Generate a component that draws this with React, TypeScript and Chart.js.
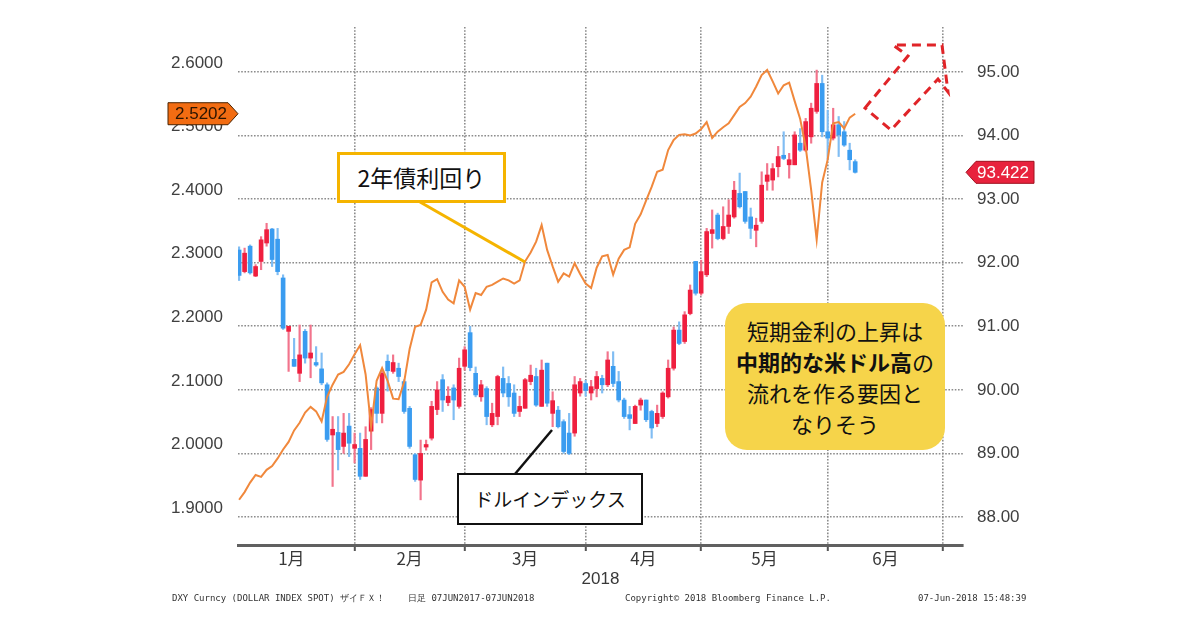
import React, { useEffect, useRef } from 'react';
import { Chart, registerables } from 'chart.js';

Chart.register(...registerables);

// ---- Data ----
const monthLabels = ['1月', '2月', '3月', '4月', '5月', '6月'];
const monthLabelPos = [9.5, 31, 52, 73.5, 95.5, 117.5];
const monthStarts = [21, 41, 63, 84, 107, 128];
const leftTicks = [1.9, 2.0, 2.1, 2.2, 2.3, 2.4, 2.5, 2.6];
const rightTicks = [88, 89, 90, 91, 92, 93, 94, 95];
const lastYield = 2.5202;
const lastDxy = 93.422;

const openV = [
  92.20, 91.86, 92.26, 91.79, 92.02, 92.31, 92.53, 92.37, 91.76, 90.92,
  90.48, 90.26, 90.92, 90.50, 90.43, 90.33, 90.08, 89.29, 89.33, 89.11,
  89.43, 89.08, 89.08, 88.64, 89.35, 90.03, 89.63, 90.45, 90.29, 90.34,
  90.13, 89.71, 88.98, 88.58, 89.10, 89.24, 89.69, 90.16, 89.80, 90.03,
  89.74, 90.37, 90.90, 90.26, 89.89, 90.02, 89.45, 89.58, 90.18, 90.10,
  89.95, 89.66, 89.71, 90.13, 90.21, 89.74, 90.42, 89.63, 89.68, 89.50,
  89.32, 89.32, 89.95, 90.10, 89.95, 90.02, 90.18, 90.08, 90.37, 90.13,
  89.84, 89.61, 89.47, 89.76, 89.84, 89.66, 89.47, 89.58, 89.89, 90.34,
  90.94, 90.76, 91.20, 92.02, 91.52, 91.81, 92.46, 92.75, 92.38, 92.57,
  92.72, 93.09, 93.12, 92.72, 92.51, 92.65, 93.28, 93.30, 93.51, 93.69,
  93.54, 93.54, 93.88, 93.77, 93.98, 94.38, 94.82, 94.06, 93.96, 94.17,
  94.06, 93.77, 93.59,
];
const highV = [
  92.25, 92.23, 92.28, 91.97, 92.41, 92.62, 92.54, 92.54, 91.81, 91.00,
  90.81, 91.02, 90.95, 91.02, 90.68, 90.58, 90.11, 89.58, 89.58, 89.63,
  89.63, 89.32, 89.32, 89.42, 89.72, 90.05, 90.29, 90.55, 90.55, 90.42,
  90.16, 89.74, 89.00, 89.21, 89.21, 89.82, 90.13, 90.24, 90.05, 90.08,
  90.50, 90.68, 91.00, 90.36, 90.15, 90.05, 89.79, 90.23, 90.36, 90.21,
  90.08, 89.90, 90.18, 90.39, 90.34, 90.47, 90.42, 89.97, 89.74, 89.53,
  89.63, 90.21, 90.18, 90.15, 90.15, 90.29, 90.23, 90.60, 90.60, 90.29,
  89.87, 89.74, 89.76, 89.87, 89.84, 89.68, 89.76, 89.97, 90.47, 90.99,
  91.07, 91.23, 91.65, 92.02, 92.04, 92.54, 92.83, 92.78, 92.88, 92.99,
  93.28, 93.41, 93.12, 92.86, 92.70, 93.43, 93.56, 93.56, 93.83, 94.06,
  93.72, 94.06, 94.11, 94.27, 94.51, 95.03, 94.95, 94.40, 94.43, 94.30,
  94.22, 93.88, 93.62,
];
const lowV = [
  91.72, 91.84, 91.82, 91.78, 91.89, 92.26, 91.94, 91.81, 90.95, 90.29,
  90.37, 90.13, 90.42, 90.19, 90.37, 90.08, 89.19, 88.48, 88.74, 89.00,
  88.95, 88.85, 88.59, 88.64, 89.06, 89.48, 89.48, 89.98, 90.26, 90.13,
  89.63, 89.08, 88.56, 88.27, 89.05, 89.21, 89.61, 89.66, 89.75, 89.53,
  89.71, 90.31, 90.30, 89.89, 89.82, 89.45, 89.42, 89.45, 89.89, 89.74,
  89.58, 89.58, 89.71, 90.08, 89.74, 89.74, 89.74, 89.42, 89.40, 89.00,
  88.98, 89.27, 89.90, 89.90, 89.84, 89.89, 89.95, 90.05, 90.05, 89.81,
  89.55, 89.37, 89.47, 89.68, 89.50, 89.24, 89.42, 89.55, 89.87, 90.31,
  90.71, 90.73, 91.18, 91.49, 91.49, 91.78, 92.23, 92.36, 92.36, 92.46,
  92.70, 92.86, 92.62, 92.38, 92.25, 92.62, 93.14, 93.14, 93.35, 93.62,
  93.33, 93.54, 93.75, 93.75, 93.88, 94.35, 93.98, 93.62, 93.93, 93.67,
  93.83, 93.46, 93.41,
];
const closeV = [
  91.80, 92.15, 91.84, 91.94, 92.36, 92.52, 92.05, 91.86, 90.97, 91.00,
  90.37, 90.55, 90.50, 90.58, 90.39, 90.11, 89.22, 89.38, 89.06, 89.32,
  89.16, 89.14, 88.64, 89.22, 89.69, 89.63, 90.26, 90.30, 90.43, 90.21,
  89.66, 89.11, 88.59, 89.00, 89.14, 89.74, 90.00, 89.84, 89.90, 89.84,
  90.34, 90.63, 90.35, 89.92, 90.08, 89.58, 89.63, 90.21, 89.95, 89.89,
  89.63, 89.74, 90.16, 90.23, 89.76, 90.31, 89.79, 89.83, 89.42, 89.03,
  89.00, 90.08, 90.13, 89.99, 90.05, 90.21, 90.08, 90.47, 90.10, 89.84,
  89.58, 89.55, 89.74, 89.84, 89.53, 89.40, 89.63, 89.95, 90.34, 90.94,
  90.73, 91.18, 91.57, 91.52, 91.86, 92.49, 92.52, 92.38, 92.57, 92.75,
  93.14, 92.88, 92.65, 92.54, 92.59, 93.22, 93.38, 93.48, 93.67, 93.64,
  93.62, 94.01, 93.77, 94.22, 94.43, 94.82, 94.06, 93.96, 94.17, 94.01,
  93.85, 93.62, 93.422,
];
const yield2y = [
  1.913, 1.925, 1.940, 1.952, 1.949, 1.960, 1.966, 1.978, 1.992, 2.004,
  2.022, 2.034, 2.050, 2.059, 2.052, 2.036, 2.075, 2.094, 2.110, 2.114,
  2.126, 2.142, 2.156, 2.110, 2.028, 2.100, 2.120, 2.100, 2.072, 2.071,
  2.098, 2.150, 2.185, 2.188, 2.212, 2.255, 2.260, 2.240, 2.228, 2.222,
  2.258, 2.248, 2.212, 2.238, 2.235, 2.248, 2.251, 2.256, 2.261, 2.258,
  2.253, 2.258, 2.288, 2.302, 2.319, 2.345, 2.306, 2.280, 2.256, 2.269,
  2.264, 2.285, 2.268, 2.253, 2.246, 2.278, 2.296, 2.298, 2.267, 2.292,
  2.306, 2.310, 2.347, 2.362, 2.384, 2.405, 2.429, 2.432, 2.463, 2.479,
  2.487, 2.488, 2.486, 2.489, 2.496, 2.507, 2.482, 2.492, 2.499, 2.505,
  2.518, 2.531, 2.537, 2.547, 2.563, 2.581, 2.589, 2.571, 2.552, 2.565,
  2.569, 2.540, 2.512, 2.468, 2.400, 2.322, 2.412, 2.448, 2.505, 2.507,
  2.497, 2.514, 2.5202,
];

const UP = '#ef1f3f';
const DOWN = '#3a9cf0';
const UP_WICK = '#f2748c';
const DOWN_WICK = '#80bdf3';
const ORANGE = '#f0883c';
const GRID = '#8c8c8c';
const DOTS = [1.6, 1.6];
const TICK_FONT = '"Liberation Sans", Arial, sans-serif';
const JP_FONT = '"Noto Sans CJK JP", "Noto Sans", sans-serif';

const tagPlugin = {
  id: 'valueTags',
  afterDraw(chart: any) {
    const { ctx, chartArea } = chart;
    const yl = chart.scales.yL.getPixelForValue(lastYield);
    const yr = chart.scales.yR.getPixelForValue(lastDxy);
    const L = chartArea.left;
    const R = chartArea.right;
    ctx.save();
    // left (orange) tag
    ctx.beginPath();
    ctx.moveTo(L - 70, yl - 11);
    ctx.lineTo(L - 10, yl - 11);
    ctx.lineTo(L, yl);
    ctx.lineTo(L - 10, yl + 11);
    ctx.lineTo(L - 70, yl + 11);
    ctx.closePath();
    ctx.fillStyle = '#f26c12';
    ctx.fill();
    ctx.lineWidth = 1;
    ctx.strokeStyle = '#4a2200';
    ctx.stroke();
    ctx.fillStyle = '#2b1400';
    ctx.font = `17px ${TICK_FONT}`;
    ctx.textAlign = 'center';
    ctx.textBaseline = 'middle';
    ctx.fillText(lastYield.toFixed(4), L - 37, yl + 1);
    // right (red) tag
    ctx.beginPath();
    ctx.moveTo(R + 3, yr);
    ctx.lineTo(R + 13, yr - 11);
    ctx.lineTo(R + 71, yr - 11);
    ctx.lineTo(R + 71, yr + 11);
    ctx.lineTo(R + 13, yr + 11);
    ctx.closePath();
    ctx.fillStyle = '#e8223d';
    ctx.fill();
    ctx.strokeStyle = '#a0101f';
    ctx.stroke();
    ctx.fillStyle = '#ffffff';
    ctx.fillText(lastDxy.toFixed(3), R + 40, yr + 1);
    ctx.restore();
  },
};

// grid lines take their dash from border.dash (per tick); keep the axis line itself solid
const tickDash = (c: any) => (c.type === 'tick' ? DOTS : []);

function ChartCanvas() {
  const ref = useRef<HTMLCanvasElement | null>(null);
  useEffect(() => {
    document.body.style.margin = '0';
    if (!ref.current) return;
    const isUp = closeV.map((c, i) => c >= openV[i]);
    const chart = new Chart(ref.current, {
      type: 'bar',
      data: {
        datasets: [
          {
            type: 'line',
            label: '2年債利回り',
            data: yield2y.map((v, i) => ({ x: i, y: v })),
            xAxisID: 'x',
            yAxisID: 'yL',
            borderColor: ORANGE,
            borderWidth: 2,
            pointRadius: 0,
            tension: 0,
            order: 0,
          } as any,
          {
            type: 'bar',
            label: 'body',
            data: openV.map((o, i) => ({ x: i, y: [o, closeV[i]] })),
            xAxisID: 'x',
            yAxisID: 'yR',
            backgroundColor: isUp.map((u) => (u ? UP : DOWN)),
            barThickness: 4,
            grouped: false,
            minBarLength: 2,
            order: 1,
          } as any,
          {
            type: 'bar',
            label: 'wick',
            data: lowV.map((l, i) => ({ x: i, y: [l, highV[i]] })),
            xAxisID: 'x',
            yAxisID: 'yR',
            backgroundColor: isUp.map((u) => (u ? UP_WICK : DOWN_WICK)),
            barThickness: 1.5,
            grouped: false,
            order: 2,
          } as any,
        ],
      },
      options: {
        responsive: false,
        animation: false,
        layout: { padding: { top: 27, left: 0, right: 0, bottom: 0 } },
        plugins: { legend: { display: false }, tooltip: { enabled: false } },
        scales: {
          x: {
            type: 'linear',
            position: 'bottom',
            min: -0.2,
            max: 131.6,
            offset: false,
            afterBuildTicks: (s: any) => {
              s.ticks = [...monthStarts, ...monthLabelPos]
                .sort((a, b) => a - b)
                .map((v) => ({ value: v }));
            },
            afterFit: (s: any) => {
              s.height = 85;
            },
            grid: {
              offset: false,
              color: (c: any) => (monthStarts.includes(c.tick?.value) ? GRID : 'rgba(0,0,0,0)'),
              lineWidth: 1.6,
              drawTicks: true,
              tickLength: 6,
              tickWidth: 2,
              tickBorderDash: [],
              tickColor: (c: any) => (monthStarts.includes(c.tick?.value) ? '#555' : 'rgba(0,0,0,0)'),
            },
            border: { display: true, color: '#606060', width: 3, dash: tickDash },
            ticks: {
              autoSkip: false,
              maxRotation: 0,
              padding: -3,
              color: '#383838',
              font: { family: JP_FONT, size: 17 },
              callback: (v: any) => {
                const k = monthLabelPos.indexOf(Number(v));
                return k >= 0 ? monthLabels[k] : '';
              },
            },
            title: {
              display: true,
              text: '2018',
              color: '#383838',
              font: { family: TICK_FONT, size: 17 },
              padding: { top: 0, bottom: 40 },
            },
          } as any,
          yL: {
            type: 'linear',
            position: 'left',
            min: 1.84178,
            max: 2.65663,
            afterBuildTicks: (s: any) => {
              s.ticks = leftTicks.map((v) => ({ value: v }));
            },
            afterFit: (s: any) => {
              s.width = 238;
            },
            grid: { display: false, drawTicks: false },
            border: { display: false },
            ticks: {
              padding: 15,
              color: '#404040',
              font: { family: TICK_FONT, size: 17 },
              callback: (v: any) => Number(v).toFixed(4),
            },
          } as any,
          yR: {
            type: 'linear',
            position: 'right',
            min: 87.5594,
            max: 95.7079,
            afterBuildTicks: (s: any) => {
              s.ticks = rightTicks.map((v) => ({ value: v }));
            },
            afterFit: (s: any) => {
              s.width = 237;
            },
            grid: {
              color: GRID,
              lineWidth: 1.6,
              drawTicks: false,
            },
            border: { display: false, dash: tickDash },
            ticks: {
              padding: 14,
              color: '#404040',
              font: { family: TICK_FONT, size: 17 },
              callback: (v: any) => Number(v).toFixed(2),
            },
          } as any,
        },
      } as any,
      plugins: [tagPlugin],
    });
    return () => chart.destroy();
  }, []);
  return (
    <canvas
      ref={ref}
      width={1200}
      height={630}
      style={{ position: 'absolute', left: 0, top: 0, width: 1200, height: 630 }}
    />
  );
}

const abs = (l: number, t: number, w: number, h: number): React.CSSProperties => ({
  position: 'absolute',
  left: l,
  top: t,
  width: w,
  height: h,
  boxSizing: 'border-box',
});

export default function App() {
  const footStyle: React.CSSProperties = {
    position: 'absolute',
    top: 592,
    fontFamily: '"DejaVu Sans Mono", monospace',
    fontSize: 9,
    color: '#333',
    whiteSpace: 'nowrap',
    lineHeight: '12px',
  };
  return (
    <div
      style={{
        position: 'absolute',
        left: 0,
        top: 0,
        width: 1200,
        height: 630,
        background: '#fff',
        overflow: 'hidden',
      }}
    >
      <ChartCanvas />
      <svg
        width={1200}
        height={630}
        style={{ position: 'absolute', left: 0, top: 0, pointerEvents: 'none' }}
      >
        <line x1={420} y1={202} x2={525} y2={262} stroke="#f5b400" strokeWidth={3} />
        <line x1={515} y1={474} x2={552} y2={430} stroke="#111" strokeWidth={2.5} />
        <polygon
          points="865,108 908,56 893,45 942,45 948,92 938,79 891,130"
          fill="none"
          stroke="#e02428"
          strokeWidth={3}
          strokeDasharray="9 6"
          strokeLinejoin="miter"
        />
      </svg>
      <div
        style={{
          ...abs(337, 152, 169, 51),
          border: '3px solid #f5b400',
          background: '#fff',
          fontFamily: JP_FONT,
          fontSize: 23,
          color: '#111',
          textAlign: 'center',
          lineHeight: '45px',
        }}
      >
        2年債利回り
      </div>
      <div
        style={{
          ...abs(457, 473, 186, 52),
          border: '2.5px solid #111',
          background: '#fff',
          fontFamily: JP_FONT,
          fontSize: 19,
          color: '#111',
          textAlign: 'center',
          lineHeight: '47px',
        }}
      >
        ドルインデックス
      </div>
      <div
        style={{
          ...abs(725, 303, 220, 147),
          background: '#f6d44a',
          borderRadius: 22,
          fontFamily: JP_FONT,
          fontSize: 22,
          color: '#111',
          textAlign: 'center',
          lineHeight: '31px',
          paddingTop: 12,
        }}
      >
        <div>短期金利の上昇は</div>
        <div>
          <span style={{ fontWeight: 700 }}>中期的な米ドル高</span>の
        </div>
        <div>流れを作る要因と</div>
        <div>なりそう</div>
      </div>
      <div style={{ ...footStyle, left: 172 }}>DXY Curncy (DOLLAR INDEX SPOT) ザイＦＸ！</div>
      <div style={{ ...footStyle, left: 408 }}>日足 07JUN2017-07JUN2018</div>
      <div style={{ ...footStyle, left: 625 }}>Copyright© 2018 Bloomberg Finance L.P.</div>
      <div style={{ ...footStyle, left: 918 }}>07-Jun-2018 15:48:39</div>
    </div>
  );
}
